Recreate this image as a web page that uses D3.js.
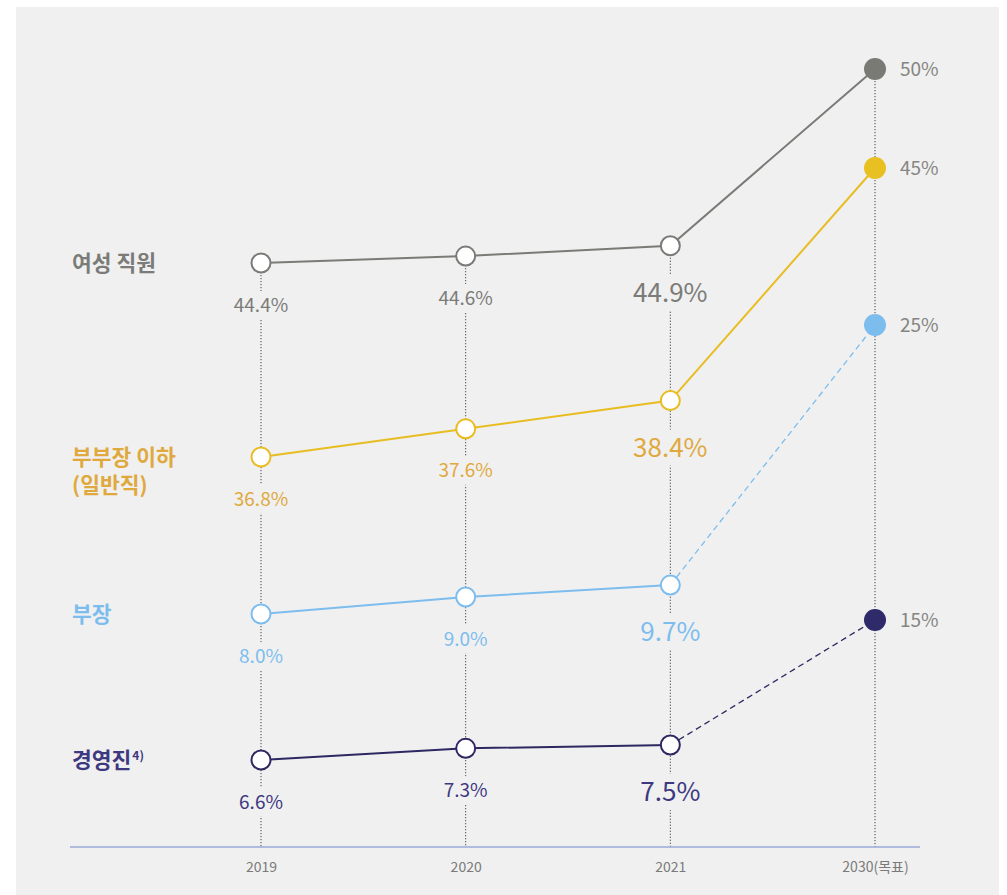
<!DOCTYPE html>
<html><head><meta charset="utf-8">
<script src="https://cdn.jsdelivr.net/npm/d3@7"></script>
<style>
html,body{margin:0;padding:0;background:#fff;}
svg{display:block;font-family:"Noto Sans CJK KR","Noto Sans",sans-serif;}
</style></head><body>
<svg id="c" width="1007" height="895"></svg>
<script>
const years = ["2019","2020","2021","2030(목표)"];
const seriesNames = ["여성 직원","부부장 이하","부장","경영진"];
const womenStaff = [44.4, 44.6, 44.9, 50];
const generalStaff = [36.8, 37.6, 38.4, 45];
const deptHeads = [8.0, 9.0, 9.7, 25];
const executives = [6.6, 7.3, 7.5, 15];
const valueLabels = [
  ["44.4%","44.6%","44.9%","50%"],
  ["36.8%","37.6%","38.4%","45%"],
  ["8.0%","9.0%","9.7%","25%"],
  ["6.6%","7.3%","7.5%","15%"]
];

const series = [
  {name:"여성 직원", values:womenStaff, line:"#7a7a77", text:"#7b7b78", fill:"#7a7a75", dash:false, dom:[44.4,50], rng:[263,69]},
  {name:"부부장 이하", sub:"(일반직)", values:generalStaff, line:"#e8bd22", text:"#dfa93e", fill:"#e8c022", dash:false, dom:[36.8,45], rng:[457,168]},
  {name:"부장", values:deptHeads, line:"#7dbdee", text:"#7dbdee", fill:"#7dbdee", dash:true, dom:[8,25], rng:[614,325]},
  {name:"경영진", sup:"4)", values:executives, line:"#2d2762", text:"#3d3880", fill:"#2f2a6a", dash:true, dom:[6.6,15], rng:[760,620]}
];

const svg = d3.select("#c");
const bg = "#f0f0f0";
svg.append("rect").attr("x",16).attr("y",7).attr("width",983).attr("height",900).attr("fill",bg);

const x = d3.scalePoint().domain(years).range([261,875]);
const axisY = 847;

series.forEach(s => { s.y = d3.scaleLinear().domain(s.dom).range(s.rng); });

// dotted vertical guides
years.forEach((yr,i) => {
  const top = d3.min(series, s => s.y(s.values[i]));
  svg.append("line").attr("x1",x(yr)).attr("x2",x(yr)).attr("y1",top).attr("y2",axisY)
    .attr("stroke","#444").attr("stroke-width",1).attr("stroke-dasharray","1.2,1.8");
});

// axis
const axis = d3.axisBottom(x).tickSize(0).tickPadding(15);
const ag = svg.append("g").attr("transform",`translate(0,${axisY})`).call(axis)
  .attr("font-size",14).attr("font-family","'Noto Sans CJK KR',sans-serif");
ag.select(".domain").remove();
ag.append("line").attr("x1",70).attr("x2",920).attr("y1",0).attr("y2",0).attr("stroke","#9cabd6").attr("stroke-width",1.3);
ag.selectAll(".tick text").attr("fill","#7a7a7a").style("font-size","14px");

// lines
series.forEach(s => {
  const pts = s.values.map((v,i)=>[x(years[i]), s.y(v)]);
  const solid = s.dash ? pts.slice(0,3) : pts;
  svg.append("path").attr("d", d3.line()(solid)).attr("fill","none").attr("stroke",s.line).attr("stroke-width",2);
  if (s.dash) {
    svg.append("path").attr("d", d3.line()(pts.slice(2))).attr("fill","none").attr("stroke",s.line)
      .attr("stroke-width",1.3).attr("stroke-dasharray","6,4");
  }
});

// value labels with background knockouts
series.forEach((s,si) => {
  s.values.forEach((v,i) => {
    if (i === 3) return;
    const big = i === 2;
    const fs = big ? 26 : 19;
    const off = big ? 47 : 42;
    const cx = x(years[i]), cy = s.y(v) + off;
    const w = big ? 86 : 66;
    svg.append("rect").attr("x",cx-w/2).attr("y",cy-(big?18:14)).attr("width",w).attr("height",big?36:28).attr("fill",bg);
    svg.append("text").attr("x",cx).attr("y",cy).attr("dy","0.35em").attr("text-anchor","middle")
      .attr("font-size",fs).attr("fill",s.text).text(valueLabels[si][i]);
  });
  // 2030 label
  svg.append("text").attr("x",x(years[3])+25).attr("y",s.y(s.values[3])).attr("dy","0.35em")
    .attr("font-size",19).attr("fill","#858582").text(valueLabels[si][3]);
});

// circles
series.forEach(s => {
  s.values.forEach((v,i) => {
    const c = svg.append("circle").attr("cx",x(years[i])).attr("cy",s.y(v));
    if (i === 3) c.attr("r",11).attr("fill",s.fill);
    else c.attr("r",9.5).attr("fill","#fff").attr("stroke",s.line).attr("stroke-width",2);
  });
});

// series names
series.forEach(s => {
  const t = svg.append("text").attr("x",72).attr("y",s.y(s.values[0])).attr("dy","0.35em")
    .attr("font-size",21.5).attr("font-weight","bold").attr("fill",s.text);
  t.append("tspan").text(s.name);
  if (s.sup) t.append("tspan").attr("font-size",12).attr("dy","-0.6em").attr("dx",1).text(s.sup);
  if (s.sub) {
    svg.append("text").attr("x",72).attr("y",s.y(s.values[0])+28).attr("dy","0.35em")
      .attr("font-size",21.5).attr("font-weight","bold").attr("fill",s.text).text(s.sub);
  }
});
</script>
</body></html>
